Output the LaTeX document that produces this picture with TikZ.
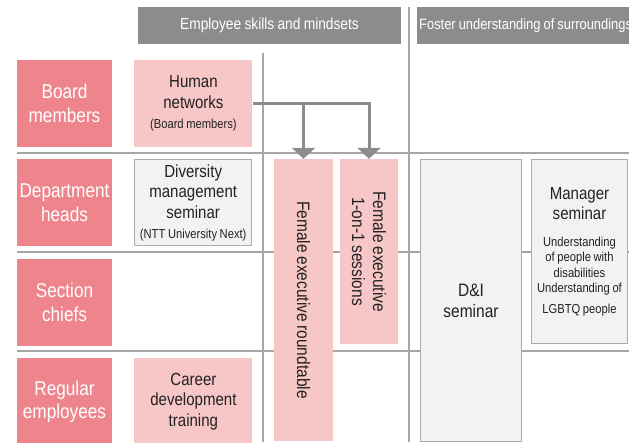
\documentclass[tikz,border=0pt]{standalone}
\usepackage{fontspec}
\setmainfont{Liberation Sans}[FakeStretch=0.86, WordSpace=0.85]
\usepackage{xcolor}
\usepackage{tikz}
\usetikzlibrary{arrows.meta,positioning}

\definecolor{rowpink}{HTML}{EE858D}
\definecolor{lightpink}{HTML}{F7C6C6}
\definecolor{headgray}{HTML}{8C8C8C}
\definecolor{boxgray}{HTML}{F2F2F0}
\definecolor{edgegray}{HTML}{ABABAB}
\definecolor{gridgray}{HTML}{A6A6A6}
\definecolor{inkdark}{HTML}{222222}

\newcommand{\smallfont}{\fontsize{13}{15.5}\selectfont}

\begin{document}
\begin{tikzpicture}[
  x=1pt, y=-1pt,
  node distance=12pt and 22pt,
  rowlabel/.style={fill=rowpink, text=white, align=center, inner sep=0pt, minimum width=95pt, minimum height=87pt, font=\fontsize{20}{23.5}\selectfont},
  pinkbox/.style={fill=lightpink, text=inkdark, align=flush center, inner sep=0pt, minimum width=118pt, minimum height=87pt, text width=114pt, font=\fontsize{17.5}{20.5}\selectfont},
  graybox/.style={fill=boxgray, draw=edgegray, line width=1pt, text=inkdark, align=flush center, inner sep=0pt, font=\fontsize{17.5}{20.5}\selectfont},
  tallbox/.style={fill=lightpink, text=inkdark, align=center, inner sep=0pt, rotate=-90, font=\fontsize{18}{21}\selectfont},
  header/.style={fill=headgray, text=white, inner sep=0pt, minimum height=37pt, font=\fontsize{16}{18}\selectfont},
  gridline/.style={draw=gridgray, line width=1.6pt},
  conn/.style={draw=headgray, line width=3pt, -{Triangle[width=23pt,length=11pt]}}
]
\useasboundingbox (0,0) rectangle (629,442);
\clip (0,0) rectangle (629,442);

% grid
\draw[gridline] (409,7) -- (409,442);
\draw[gridline] (263,53) -- (263,442);
\foreach \yy in {153,252,351}
  \draw[gridline] (17,\yy) -- (629,\yy);

% column headers
\node[header, minimum width=263pt] (skills) at (269.5,25.5) {Employee skills and mindsets};
\node[header, minimum width=240pt, text width=236pt, align=flush left, anchor=west, font=\fontsize{15}{18}\selectfont] (foster) at (417,25.5) {Foster understanding of surroundings};

% rows
\node[rowlabel] (board) at (64.5,103.5) {Board\\members};
\node[rowlabel, below=of board] (dept) {Department\\heads};
\node[rowlabel, below=of dept] (sect) {Section\\chiefs};
\node[rowlabel, below=of sect] (regular) {Regular\\employees};

% programs
\node[pinkbox, right=of board] (hn) {Human\\networks\par\smallfont (Board members)};
\node[graybox, right=of dept, minimum width=117pt, minimum height=86pt, text width=114pt] (dms) {Diversity\\management\\seminar\par\smallfont (NTT University Next)};
\node[pinkbox, right=of regular] (cdt) {Career\\development\\training};

\node[tallbox, minimum width=282pt, minimum height=59pt] (fer) at (303.5,300) {Female executive roundtable};
\node[tallbox, minimum width=185pt, minimum height=58pt] (fos) at (369,251.5) {Female executive\\1-on-1 sessions};

\node[graybox, minimum width=101pt, minimum height=282pt, font=\fontsize{18}{21}\selectfont] (dni) at (471,300.5) {D\&I\\seminar};
\node[graybox, minimum width=96pt, minimum height=184pt, text width=92pt] (mgr) at (579.5,251.5) {Manager\\seminar\par\vspace{11pt}\smallfont Understanding\\of people with\\disabilities\\Understanding of\\LGBTQ people};

% arrows
\draw[conn] (hn.east) -| (fer.west);
\draw[conn] (hn.east) -| (fos.west);
\end{tikzpicture}
\end{document}
